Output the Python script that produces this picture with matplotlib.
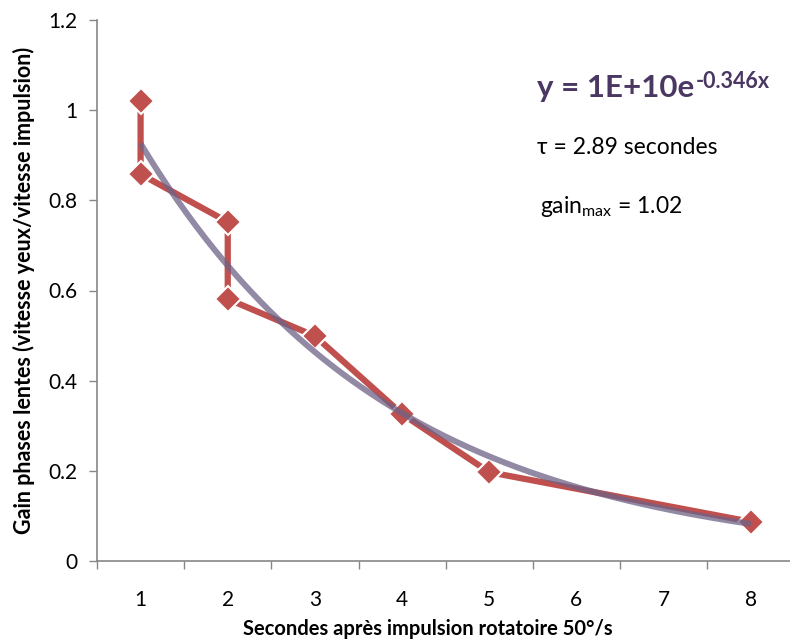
import numpy as np
import matplotlib
matplotlib.use('Agg')
import matplotlib.pyplot as plt
from matplotlib.ticker import FixedLocator, NullFormatter

plt.rcParams['font.family'] = ['Lato', 'DejaVu Sans']
plt.rcParams['mathtext.fontset'] = 'custom'
plt.rcParams['mathtext.rm'] = 'Lato'
plt.rcParams['mathtext.bf'] = 'Lato:bold'

# seconds after the rotatory impulse, and slow-phase gain
seconds = [1, 1, 2, 2, 3, 4, 5, 8]
gain = [1.02, 0.858, 0.752, 0.581, 0.499, 0.326, 0.197, 0.087]
decay_rate = 0.346
x_labels = ['1', '2', '3', '4', '5', '6', '7', '8']
y_ticks = [0, 0.2, 0.4, 0.6, 0.8, 1, 1.2]

red = '#C0504D'
trend_colour = '#6E6287'
axis_grey = '#868686'
text_purple = '#4A3762'

# amplitude of the exponential trend for the given decay rate
x = np.array(seconds, dtype=float)
y = np.array(gain)
amplitude = np.exp(np.mean(np.log(y) + decay_rate * x))
xs = np.linspace(1, 8, 200)
ys = amplitude * np.exp(-decay_rate * xs)

fig = plt.figure(figsize=(7.9, 6.41), dpi=100)
ax = fig.add_axes([97 / 790, 80 / 641, 1 - 97 / 790, 541 / 641])

ax.plot(seconds, gain, color=red, lw=4.5, marker='D', markersize=13,
        markerfacecolor=red, markeredgecolor='white', markeredgewidth=1.5,
        solid_joinstyle='miter', zorder=2)
ax.plot(xs, ys, color=trend_colour, lw=4.3, alpha=0.75, zorder=3,
        solid_capstyle='butt')

ax.set_xlim(0.5, 8.45)
ax.set_ylim(0, 1.2)

# category-style x axis: tick marks between labels
ax.xaxis.set_major_locator(FixedLocator(np.arange(0.5, 8.5, 1)))
ax.xaxis.set_major_formatter(NullFormatter())
ax.xaxis.set_minor_locator(FixedLocator(range(1, 9)))
ax.set_xticklabels(x_labels, minor=True)
ax.tick_params(axis='x', which='major', length=6, width=1, color=axis_grey,
               direction='out')
ax.tick_params(axis='x', which='minor', length=0, pad=21, labelsize=15)

ax.set_yticks(y_ticks)
ax.set_yticklabels(['0', '0.2', '0.4', '0.6', '0.8', '1', '1.2'])
ax.tick_params(axis='y', length=6, width=1, color=axis_grey, direction='out',
               labelsize=15, pad=8)

for side in ['top', 'right']:
    ax.spines[side].set_visible(False)
for side in ['left', 'bottom']:
    ax.spines[side].set_color(axis_grey)
    ax.spines[side].set_linewidth(1.2)

ax.set_xlabel('Secondes après impulsion rotatoire 50°/s', fontsize=14.5,
              fontweight='bold')
ax.xaxis.set_label_coords(0.478, -0.108)
ax.set_ylabel('Gain phases lentes (vitesse yeux/vitesse impulsion)',
              fontsize=15.5, fontweight='bold', labelpad=10)

eq = fig.text(537 / 790, 1 - 97 / 641, 'y = 1E+10e', fontsize=22.5,
              fontweight='bold', color=text_purple, va='baseline')
ax.annotate('-0.346x', xy=(1, 1), xycoords=eq, xytext=(1, 2),
            textcoords='offset points', va='top', ha='left', fontsize=15.5,
            fontweight='bold', color=text_purple)
fig.text(537 / 790, 1 - 147 / 641, 'τ = 2.89 secondes', fontsize=16.5,
         va='center')
fig.text(540 / 790, 1 - 207 / 641, r'gain$_{\mathrm{max}}$ = ' + f'{max(gain):.2f}',
         fontsize=16.5, va='center')

fig.savefig('out.png', dpi=100)
